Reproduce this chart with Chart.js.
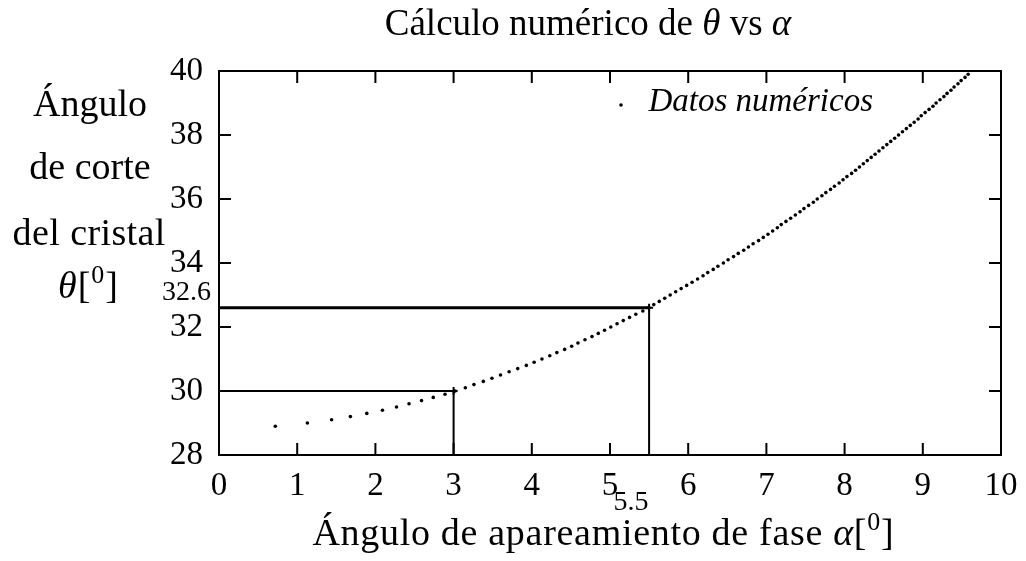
<!DOCTYPE html>
<html>
<head>
<meta charset="utf-8">
<title>Cálculo numérico de θ vs α</title>
<script src="https://cdn.jsdelivr.net/npm/chart.js@4.4.1/dist/chart.umd.min.js"></script>
<style>
  html, body { margin: 0; padding: 0; background: #fff; }
  canvas { display: block; }
</style>
</head>
<body>
<canvas id="thetaChart" width="1026" height="561"></canvas>
<script>
// Ángulo de corte del cristal (theta) para cada ángulo de apareamiento (alpha)
const thetaValues = [
    28.9, 29.0, 29.1, 29.2, 29.3, 29.4, 29.5, 29.6, 29.7, 29.8,
    29.9, 30.0, 30.1, 30.2, 30.3, 30.4, 30.5, 30.6, 30.7, 30.8,
    30.9, 31.0, 31.1, 31.2, 31.3, 31.4, 31.5, 31.6, 31.7, 31.8,
    31.9, 32.0, 32.1, 32.2, 32.3, 32.4, 32.5, 32.6, 32.7, 32.8,
    32.9, 33.0, 33.1, 33.2, 33.3, 33.4, 33.5, 33.6, 33.7, 33.8,
    33.9, 34.0, 34.1, 34.2, 34.3, 34.4, 34.5, 34.6, 34.7, 34.8,
    34.9, 35.0, 35.1, 35.2, 35.3, 35.4, 35.5, 35.6, 35.7, 35.8,
    35.9, 36.0, 36.1, 36.2, 36.3, 36.4, 36.5, 36.6, 36.7, 36.8,
    36.9, 37.0, 37.1, 37.2, 37.3, 37.4, 37.5, 37.6, 37.7, 37.8,
    37.9, 38.0, 38.1, 38.2, 38.3, 38.4, 38.5, 38.6, 38.7, 38.8,
    38.9, 39.0, 39.1, 39.2, 39.3, 39.4, 39.5, 39.6, 39.7, 39.8,
    39.9
];
const alphaValues = [
    0.72, 1.13, 1.44, 1.68, 1.89, 2.09, 2.27, 2.43, 2.59, 2.74,
    2.89, 3.02, 3.15, 3.26, 3.38, 3.49, 3.60, 3.71, 3.82, 3.93,
    4.03, 4.13, 4.23, 4.32, 4.42, 4.51, 4.59, 4.68, 4.77, 4.85,
    4.93, 5.01, 5.09, 5.17, 5.25, 5.33, 5.42, 5.50, 5.56, 5.63,
    5.70, 5.77, 5.84, 5.91, 5.98, 6.05, 6.12, 6.19, 6.25, 6.32,
    6.38, 6.45, 6.51, 6.58, 6.64, 6.71, 6.77, 6.83, 6.90, 6.96,
    7.02, 7.08, 7.14, 7.19, 7.25, 7.31, 7.37, 7.43, 7.48, 7.54,
    7.60, 7.65, 7.71, 7.76, 7.82, 7.87, 7.93, 7.98, 8.03, 8.09,
    8.14, 8.19, 8.24, 8.29, 8.34, 8.39, 8.44, 8.49, 8.54, 8.59,
    8.64, 8.69, 8.74, 8.79, 8.84, 8.89, 8.94, 8.98, 9.03, 9.08,
    9.13, 9.17, 9.22, 9.27, 9.31, 9.36, 9.40, 9.45, 9.49, 9.54,
    9.58
];

// Tick labels
const alphaTicks = [0, 1, 2, 3, 4, 5, 6, 7, 8, 9, 10];
const thetaTicks = [28, 30, 32, 34, 36, 38, 40];

// Puntos de lectura marcados con líneas
const refAlpha = [3, 5.5];
const refTheta = [30, 32.6];
const refLabelAlpha = ['', '5.5'];
const refLabelTheta = ['', '32.6'];

const SERIF = "'Liberation Serif', 'Times New Roman', serif";
const roman = size => `${size}px ${SERIF}`;
const italic = size => `italic ${size}px ${SERIF}`;

// Draws a line of text made of parts [text, font, dy], char by char with extra spacing
function drawRich(ctx, parts, x, y, align, spacing) {
    const chars = [];
    parts.forEach(([text, font, dy]) => {
        ctx.font = font;
        for (const ch of text) {
            chars.push({ ch, font, dy: dy || 0, w: ctx.measureText(ch).width });
        }
    });
    const total = chars.reduce((s, c) => s + c.w, 0) + spacing * (chars.length - 1);
    let cx = align === 'center' ? x - total / 2 : align === 'right' ? x - total : x;
    ctx.textAlign = 'left';
    ctx.textBaseline = 'alphabetic';
    chars.forEach(c => {
        ctx.font = c.font;
        ctx.fillText(c.ch, cx, y + c.dy);
        cx += c.w + spacing;
    });
}

const points = thetaValues.map((t, i) => ({ x: alphaValues[i], y: t }));

// One horizontal and one vertical segment per reading point
const refDatasets = [];
const hWidths = [2, 3];
refAlpha.forEach((a, i) => {
    refDatasets.push({
        label: 'h' + i,
        data: [{ x: alphaTicks[0], y: refTheta[i] }, { x: a, y: refTheta[i] }],
        showLine: true, borderColor: '#000', borderWidth: hWidths[i], pointRadius: 0
    });
    refDatasets.push({
        label: 'v' + i,
        data: [{ x: a, y: refTheta[i] }, { x: a, y: thetaTicks[0] }],
        showLine: true, borderColor: '#000', borderWidth: 2, pointRadius: 0
    });
});
// small crosses where the segments meet
refDatasets.push({
    label: 'cruces',
    data: refAlpha.map((a, i) => ({ x: a, y: refTheta[i] })),
    showLine: false, pointStyle: 'cross', pointRadius: 4,
    borderColor: '#000', pointBorderWidth: 2
});

const framePlugin = {
    id: 'frame',
    afterDatasetsDraw(chart) {
        const { ctx, chartArea: area, scales: { x, y } } = chart;
        ctx.save();
        ctx.strokeStyle = '#000';
        ctx.lineWidth = 2;
        ctx.strokeRect(area.left, area.top, area.right - area.left, area.bottom - area.top);

        // Inward ticks on all four sides
        const len = 12;
        ctx.beginPath();
        alphaTicks.forEach(v => {
            const px = x.getPixelForValue(v);
            ctx.moveTo(px, area.bottom); ctx.lineTo(px, area.bottom - len);
            ctx.moveTo(px, area.top); ctx.lineTo(px, area.top + len);
        });
        thetaTicks.forEach(v => {
            const py = y.getPixelForValue(v);
            ctx.moveTo(area.left, py); ctx.lineTo(area.left + len, py);
            ctx.moveTo(area.right, py); ctx.lineTo(area.right - len, py);
        });
        ctx.stroke();
        ctx.restore();
    },
    afterDraw(chart) {
        const { ctx, scales: { x, y } } = chart;
        ctx.save();
        ctx.fillStyle = '#000';

        // Title
        drawRich(ctx, [
            ['Cálculo numérico de ', roman(37)], ['θ', italic(37)],
            [' vs ', roman(37)], ['α', italic(37)]
        ], 588, 35, 'center', 0);

        // Y axis title, stacked lines
        drawRich(ctx, [['Ángulo', roman(38)]], 90, 116, 'center', 0);
        drawRich(ctx, [['de corte', roman(38)]], 90, 179, 'center', 0);
        drawRich(ctx, [['del cristal', roman(38)]], 89, 245, 'center', 0.4);
        drawRich(ctx, [
            ['θ', italic(38)], ['[', roman(38)], ['0', roman(26), -15], [']', roman(38)]
        ], 88, 298, 'center', 1);

        // X axis title
        drawRich(ctx, [
            ['Ángulo de apareamiento de fase ', roman(38)], ['α', italic(38)],
            ['[', roman(38)], ['0', roman(26), -15], [']', roman(38)]
        ], 603, 545, 'center', 0.7);

        // Reading labels next to the axes
        refAlpha.forEach((a, i) => {
            if (refLabelAlpha[i]) {
                drawRich(ctx, [[refLabelAlpha[i], roman(28)]], x.getPixelForValue(a) - 18, 510, 'center', 0);
            }
            if (refLabelTheta[i]) {
                drawRich(ctx, [[refLabelTheta[i], roman(28)]], 211, y.getPixelForValue(refTheta[i]) - 8, 'right', 0);
            }
        });

        // Legend
        ctx.beginPath();
        ctx.arc(621, 105, 1.8, 0, Math.PI * 2);
        ctx.fill();
        drawRich(ctx, [['Datos numéricos', italic(33)]], 873, 111, 'right', 0);
        ctx.restore();
    }
};

const tickFont = { family: SERIF, size: 33 };

new Chart(document.getElementById('thetaChart'), {
    type: 'scatter',
    data: {
        datasets: [{
            label: 'Datos numéricos',
            data: points,
            showLine: false,
            pointRadius: 1.8,
            pointHoverRadius: 1.8,
            pointBackgroundColor: '#000',
            pointBorderWidth: 0
        }, ...refDatasets]
    },
    options: {
        responsive: false,
        devicePixelRatio: 1,
        animation: false,
        events: [],
        layout: { padding: { left: 0, right: 25, top: 71, bottom: 0 } },
        plugins: {
            legend: { display: false },
            title: { display: false },
            tooltip: { enabled: false }
        },
        scales: {
            x: {
                type: 'linear',
                min: 0,
                max: 10,
                afterBuildTicks: scale => { scale.ticks = alphaTicks.map(v => ({ value: v })); },
                afterFit: scale => {
                    scale.height = 106;
                    scale.paddingLeft = 0;
                    scale.paddingRight = 0;
                },
                grid: { display: false, drawTicks: false },
                border: { display: false },
                ticks: { color: '#000', font: tickFont, padding: 12, maxRotation: 0 }
            },
            y: {
                type: 'linear',
                min: 28,
                max: 40,
                afterBuildTicks: scale => { scale.ticks = thetaTicks.map(v => ({ value: v })); },
                afterFit: scale => {
                    scale.width = 219;
                    scale.paddingTop = 0;
                    scale.paddingBottom = 0;
                },
                grid: { display: false, drawTicks: false },
                border: { display: false },
                ticks: { color: '#000', font: tickFont, padding: 16 }
            }
        }
    },
    plugins: [framePlugin]
});
</script>
</body>
</html>
